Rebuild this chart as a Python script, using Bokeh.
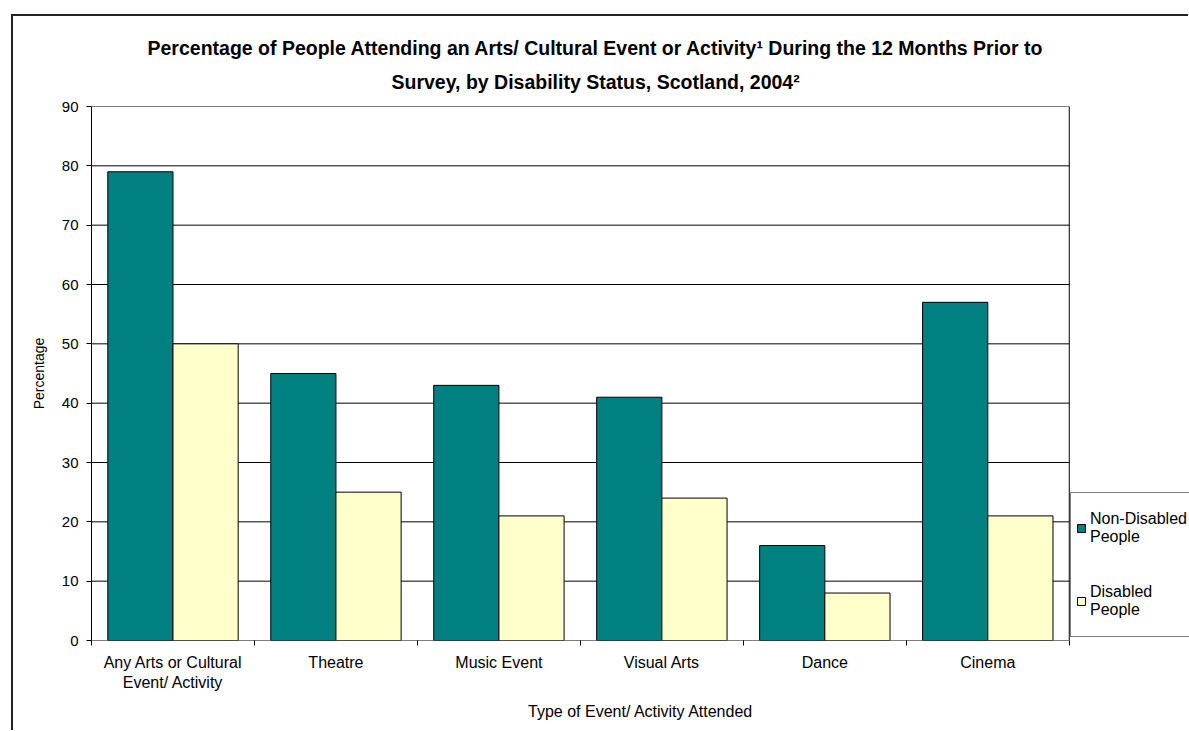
import numpy as np
from bokeh.plotting import figure
from bokeh.models import (FixedTicker, Legend, LegendItem, Title, ColumnDataSource, Range1d)
from bokeh.embed import file_html
from bokeh.resources import INLINE

categories = ["Any Arts or Cultural\nEvent/ Activity", "Theatre", "Music Event",
              "Visual Arts", "Dance", "Cinema"]
non_disabled = [79, 45, 43, 41, 16, 57]
disabled = [50, 25, 21, 24, 8, 21]
series_names = ["Non-Disabled\nPeople", "Disabled\nPeople"]
y_ticks = list(range(0, 91, 10))

FONT = "Liberation Sans"
TXT = "black"
n = len(categories)
idx = np.arange(n)
src = ColumnDataSource(dict(x1=idx + 0.3, x2=idx + 0.7, nd=non_disabled, d=disabled))

# layout: plot area 976 px wide for the categories, frame extends to the canvas edge
FRAME_W = 1097
AREA_W = 976
x_end = n * FRAME_W / AREA_W

p = figure(width=1177, height=716, output_backend="svg", toolbar_location=None,
           x_range=Range1d(0, x_end), y_range=Range1d(0, 90),
           min_border_left=78, min_border_right=0, min_border_top=90, min_border_bottom=92)
# outer chart border: only the left and top edges fall inside the window
p.styles = {"border-left": "2px solid #222", "border-top": "2px solid #222"}
p.margin = (14, 0, 0, 11)

p.outline_line_color = None
p.background_fill_color = "white"
p.border_fill_color = "white"
p.xgrid.grid_line_color = None
p.ygrid.grid_line_color = None

# gridlines and plot-area box
grid_y = [float(v) for v in y_ticks]
p.segment(x0=[0] * len(grid_y), x1=[n] * len(grid_y), y0=grid_y, y1=grid_y,
          line_color="black", line_width=1)
p.segment(x0=[n], x1=[n], y0=[0], y1=[90], line_color="black", line_width=1)

r1 = p.vbar(x="x1", top="nd", width=0.4, source=src, fill_color="#008080", line_color="black", line_width=1)
r2 = p.vbar(x="x2", top="d", width=0.4, source=src, fill_color="#FFFFCC", line_color="black", line_width=1)

# y axis
p.yaxis.ticker = FixedTicker(ticks=y_ticks, minor_ticks=[])
p.yaxis.axis_label = "Percentage"
p.yaxis.axis_label_text_font = FONT
p.yaxis.axis_label_text_font_size = "14px"
p.yaxis.axis_label_text_font_style = "normal"
p.yaxis.axis_label_text_color = TXT
p.yaxis.axis_label_standoff = 12
p.yaxis.major_label_text_font = FONT
p.yaxis.major_label_text_font_size = "15px"
p.yaxis.major_label_text_color = TXT
p.yaxis.major_label_standoff = 8
p.yaxis.major_tick_out = 5
p.yaxis.major_tick_in = 0
p.yaxis.minor_tick_line_color = None
p.yaxis.axis_line_color = "black"
p.yaxis.major_tick_line_color = "black"

# x axis
p.xaxis.ticker = FixedTicker(ticks=list(idx + 0.5), minor_ticks=list(range(n + 1)))
p.xaxis.major_label_overrides = {float(i + 0.5): c for i, c in enumerate(categories)}
p.xaxis.major_tick_line_color = None
p.xaxis.major_tick_out = 0
p.xaxis.major_tick_in = 0
p.xaxis.minor_tick_out = 5
p.xaxis.minor_tick_in = 0
p.xaxis.minor_tick_line_color = "black"
p.xaxis.major_label_text_font = FONT
p.xaxis.major_label_text_font_size = "16px"
p.xaxis.major_label_text_color = TXT
p.xaxis.major_label_standoff = 8
p.xaxis.axis_label = "Type of Event/ Activity Attended"
p.xaxis.axis_label_text_font = FONT
p.xaxis.axis_label_text_font_size = "16px"
p.xaxis.axis_label_text_font_style = "normal"
p.xaxis.axis_label_text_color = TXT
p.xaxis.axis_label_standoff = 9
p.xaxis.axis_line_color = None

# titles
t2 = Title(text="Survey, by Disability Status, Scotland, 2004²", align="left", offset=300,
           text_font=FONT, text_font_size="19.5px", text_font_style="bold", text_color=TXT, standoff=28)
t1 = Title(text="Percentage of People Attending an Arts/ Cultural Event or Activity¹ During the 12 Months Prior to",
           align="left", offset=56, text_font=FONT, text_font_size="19.5px", text_font_style="bold",
           text_color=TXT, standoff=-9)
p.title = None
p.add_layout(t2, "above")
p.add_layout(t1, "above")

legend = Legend(items=[LegendItem(label=series_names[0], renderers=[r1]),
                       LegendItem(label=series_names[1], renderers=[r2])],
                location=(979, 3), padding=5, spacing=13, label_height=60,
                glyph_width=10, glyph_height=10, label_standoff=4,
                label_text_font=FONT, label_text_font_size="16px", label_text_color=TXT,
                label_text_line_height=1.25,
                border_line_color="black", border_line_width=1,
                background_fill_color="white", background_fill_alpha=1,
                margin=0)
p.add_layout(legend, "center")

open("out.html", "w").write(file_html(p, INLINE))
